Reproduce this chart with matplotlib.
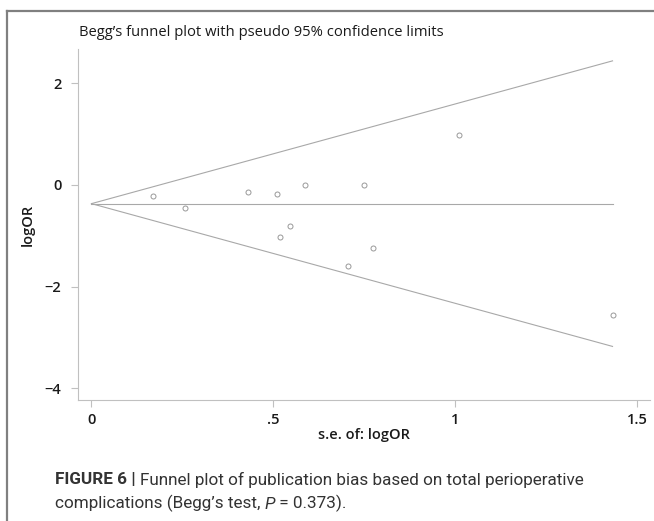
import numpy as np
import matplotlib.pyplot as plt
from matplotlib.lines import Line2D

# study estimates
se = [0.168, 0.258, 0.430, 0.509, 0.517, 0.546, 0.588, 0.704, 0.749, 0.775, 1.010, 1.432]
logor = [-0.22, -0.45, -0.14, -0.18, -1.03, -0.81, 0.00, -1.60, 0.00, -1.25, 0.97, -2.55]
pooled = -0.37
xticks = [0, 0.5, 1, 1.5]
xticklabels = ['0', '.5', '1', '1.5']
yticks = [-4, -2, 0, 2]

grey = '#a8a8a8'
W, H = 654, 521
fig = plt.figure(figsize=(W / 100, H / 100), dpi=100)
fig.patch.set_facecolor('white')

# outer frame (top and left edges visible)
fig.add_artist(Line2D([7 / W, 7 / W], [0, 1 - 11 / H], transform=fig.transFigure, color='#808080', lw=1.6))
fig.add_artist(Line2D([7 / W, 1], [1 - 11 / H, 1 - 11 / H], transform=fig.transFigure, color='#808080', lw=1.6))

ax = fig.add_axes([78 / W, 1 - 400 / H, (650 - 78) / W, (400 - 49) / H])

# funnel limits
smax = max(se)
s = np.array([0, smax])
ax.plot(s, pooled + 1.96 * s, color=grey, lw=0.8)
ax.plot(s, pooled - 1.96 * s, color=grey, lw=0.8)
ax.plot(s, [pooled, pooled], color=grey, lw=0.8)

ax.plot(se, logor, 'o', mfc='none', mec='#999999', mew=0.7, ms=3.6, ls='none')

ax.set_xlim(-0.037, 1.535)
ax.set_ylim(-4.23, 2.67)
ax.set_xticks(xticks)
ax.set_xticklabels(xticklabels)
ax.set_yticks(yticks)
ax.set_yticklabels(['\u22124', '\u22122', '0', '2'])
for side in ['top', 'right']:
    ax.spines[side].set_visible(False)
for side in ['left', 'bottom']:
    ax.spines[side].set_color('#c0c0c0')
    ax.spines[side].set_linewidth(0.8)
ax.tick_params(axis='both', color='#c0c0c0', length=5, width=0.8, labelsize=10.5, labelcolor='#1a1a1a')
ax.tick_params(axis='y', pad=7)
ax.tick_params(axis='x', pad=4)
for lab in ax.get_xticklabels() + ax.get_yticklabels():
    lab.set_fontfamily('Open Sans')
    lab.set_fontweight('semibold')

ax.set_xlabel('s.e. of: logOR', fontsize=10.5, color='#1a1a1a', family='Open Sans', fontweight='semibold',
              labelpad=1)
ax.set_ylabel('logOR', fontsize=10.5, color='#1a1a1a', family='Open Sans', fontweight='semibold', labelpad=7)

fig.text(79 / W, 1 - 33 / H, 'Begg\u2019s funnel plot with pseudo 95% confidence limits',
         fontsize=10.6, family='Open Sans', color='#1a1a1a', va='center', ha='left')

# caption
cap = '#333333'
cf = 'Roboto'
cs = 12.3
t1 = fig.text(55 / W, 1 - 480 / H, 'FIGURE 6 | ', fontsize=cs, fontweight='bold', family=cf,
              color=cap, va='center', ha='left')
plt.annotate('Funnel plot of publication bias based on total perioperative', xy=(1, 0), xycoords=t1,
             va='bottom', ha='left', fontsize=cs, family=cf, color=cap)
t2 = fig.text(55 / W, 1 - 503 / H, 'complications (Begg\u2019s test, ', fontsize=cs, family=cf,
              color=cap, va='center', ha='left')
t3 = plt.annotate('P', xy=(1, 0), xycoords=t2, va='bottom', ha='left', fontsize=cs,
                  family=cf, style='italic', color=cap)
plt.annotate(' = 0.373).', xy=(1, 0), xycoords=t3, va='bottom', ha='left', fontsize=cs,
             family=cf, color=cap)

fig.savefig('out.png', dpi=100)
